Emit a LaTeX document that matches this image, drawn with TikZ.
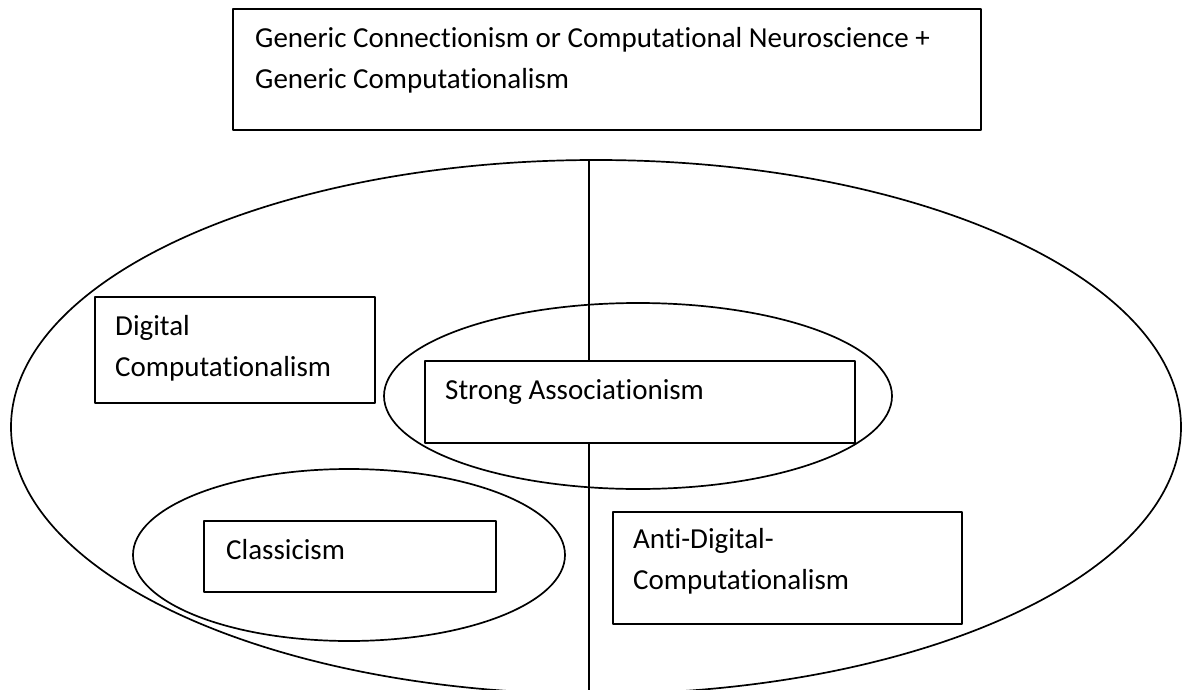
\documentclass[tikz,border=0pt]{standalone}
\usepackage{fontspec}
\setmainfont{Carlito}[Ligatures=NoCommon]

\begin{document}
\begin{tikzpicture}[x=1pt, y=-1pt, line join=round,
    box/.style={line width=2pt, fill=white},
    oval/.style={line width=1.7pt},
    lbl/.style={anchor=base west, align=left, inner sep=0pt, font=\fontsize{29}{41}\selectfont}]
    \clip (0,0) rectangle (1183,690);
    % header box
    \draw[box] (233,9) rectangle (981,130);
    \node[lbl] (generic) at (255,89) {Generic Connectionism or Computational Neuroscience +\\Generic Computationalism};
    % outer ellipse split in two halves
    \draw[oval] (596,427) ellipse [x radius=585, y radius=267];
    \draw[line width=2pt] (589,160) -- (589,695);
    \draw[box] (95,297) rectangle (375,403);
    \node[lbl] (digital) at (115,376) {Digital\\Computationalism};
    \draw[oval] (638,396) ellipse [x radius=254, y radius=93];
    \draw[box] (425,361) rectangle (855,443);
    \node[lbl] (strong) at (445,399) {Strong Associationism};
    \draw[oval] (349,555) ellipse [x radius=216, y radius=86];
    \draw[box] (204,521) rectangle (496,592);
    \node[lbl] (classic) at (226,559) {Classicism};
    \draw[box] (613,512) rectangle (962,624);
    \node[lbl] (anti) at (633,589) {Anti-Digital-\\Computationalism};
\end{tikzpicture}
\end{document}
